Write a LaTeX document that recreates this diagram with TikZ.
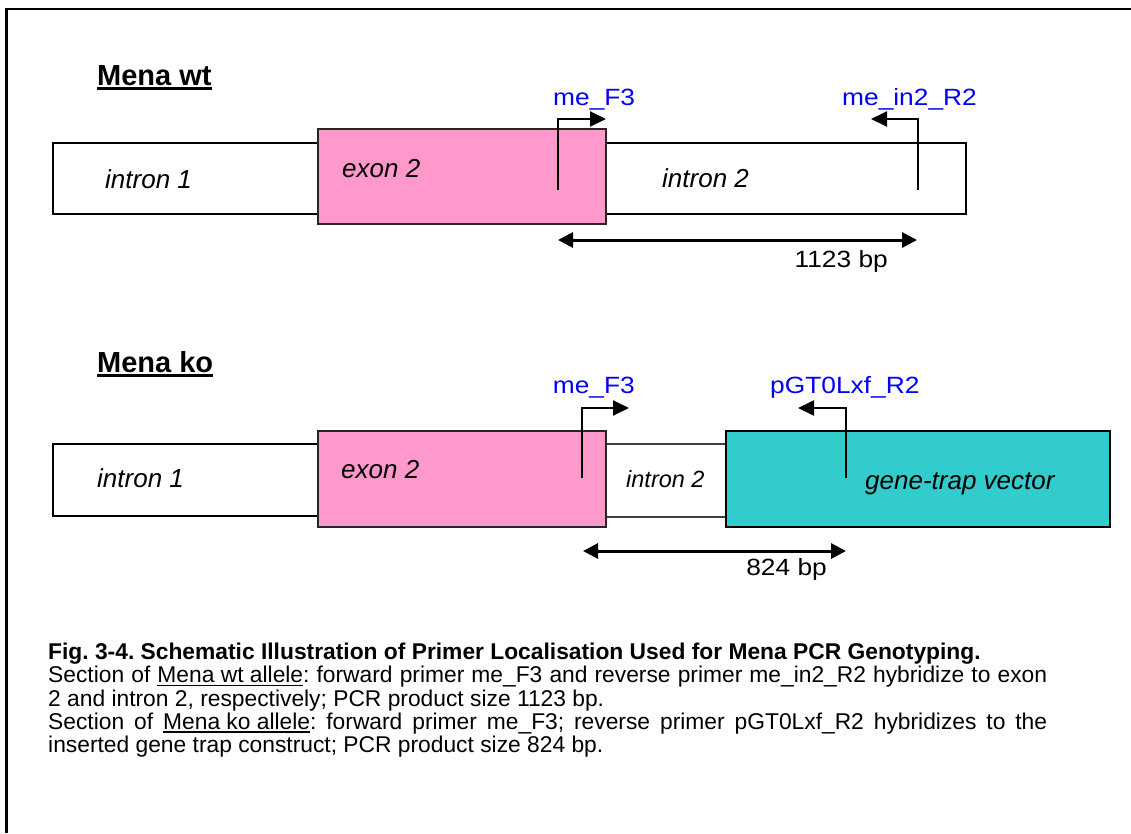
\documentclass[tikz,border=0pt]{standalone}
\usepackage{fontspec}
\setmainfont{Liberation Sans}
\newfontfamily\widesans{Liberation Sans}[FakeStretch=1.12]
\usetikzlibrary{arrows.meta,positioning}

\definecolor{exonpink}{HTML}{FF99CC}
\definecolor{trapcyan}{HTML}{33CCCC}
\definecolor{primerblue}{HTML}{0000FF}

% underlined text with a rule of our own
\newcommand{\headul}[1]{\setbox0\hbox{#1}\rlap{\rule[-4.5pt]{\wd0}{2.6pt}}\box0}
\newcommand{\capul}[1]{\setbox0\hbox{#1}\rlap{\rule[-3.2pt]{\wd0}{1.3pt}}\box0}

\tikzset{
  box/.style={draw, line width=1.6pt, anchor=north west, inner sep=0pt, outer sep=0pt},
  intronbox/.style={box, fill=white},
  exonbox/.style={box, fill=exonpink, draw=black!85},
  trapbox/.style={box, fill=trapcyan, line width=2.2pt},
  boxlabel/.style={anchor=base west, inner sep=0pt, font=\fontsize{26}{30}\selectfont\itshape},
  primerlabel/.style={anchor=base west, inner sep=0pt, text=primerblue, font=\widesans\fontsize{23.5}{27}\selectfont},
  sizelabel/.style={anchor=base east, inner sep=0pt, font=\widesans\fontsize{23.5}{27}\selectfont},
  heading/.style={anchor=base west, inner sep=0pt, font=\fontsize{29}{32}\selectfont\bfseries},
  primer/.style={line width=2pt, -{Triangle[length=16pt,width=15pt]}},
  span/.style={line width=3pt, {Triangle[length=15pt,width=15pt]}-{Triangle[length=15pt,width=15pt]}},
}

\begin{document}
\begin{tikzpicture}[x=1pt,y=-1pt]
\useasboundingbox (0,0) rectangle (1131,833);
\draw[line width=2.8pt] (1131,9) -| (6.5,833);

% wild type allele
\node[heading] (wthead) at (97,85) {\headul{Mena wt}};
\node[intronbox, minimum width=265pt, minimum height=71pt] (wtin1) at (53,143) {};
\node[intronbox, minimum width=360pt, minimum height=71pt] (wtin2) at (606,143) {};
\node[exonbox, minimum width=288pt, minimum height=95pt] (wtex2) at (318,129) {};
\node[boxlabel] (wtin1lab) at (105,188) {intron 1};
\node[boxlabel] (wtex2lab) at (342,177) {exon 2};
\node[boxlabel] (wtin2lab) at (662,187) {intron 2};

\coordinate (wtFfoot) at (558,190);
\coordinate (wtFtip) at (606,119);
\coordinate (wtRfoot) at (918,190);
\coordinate (wtRtip) at (871,119);
\draw[primer] (wtFfoot) |- (wtFtip);
\draw[primer] (wtRfoot) |- (wtRtip);
\node[primerlabel] (wtFlab) at (553,105) {me\_F3};
\node[primerlabel] (wtRlab) at (842,105) {me\_in2\_R2};

\coordinate (wtspanL) at (558,240);
\coordinate (wtspanR) at (917,240);
\draw[span] (wtspanL) -- (wtspanR);
\node[sizelabel] (wtsize) at (888,267) {1123 bp};

% knock-out allele
\node[heading] (kohead) at (97,372) {\headul{Mena ko}};
\node[intronbox, minimum width=265pt, minimum height=72pt] (koin1) at (53,444) {};
\node[intronbox, minimum width=120pt, minimum height=73pt, line width=1.2pt, draw=black!75] (koin2) at (606,444) {};
\node[exonbox, minimum width=288pt, minimum height=96pt] (koex2) at (318,431) {};
\node[trapbox, minimum width=384pt, minimum height=96pt] (kotrap) at (726,431) {};
\node[boxlabel] (koin1lab) at (97,487) {intron 1};
\node[boxlabel] (koex2lab) at (341,478) {exon 2};
\node[boxlabel, font=\fontsize{23.5}{28}\selectfont\itshape] (koin2lab) at (626,487) {intron 2};
\node[boxlabel] (kotraplab) at (865,489) {gene-trap vector};

\coordinate (koFfoot) at (582,478);
\coordinate (koFtip) at (629,408);
\coordinate (koRfoot) at (846,478);
\coordinate (koRtip) at (798,408);
\draw[primer] (koFfoot) |- (koFtip);
\draw[primer] (koRfoot) |- (koRtip);
\node[primerlabel, anchor=base east] (koFlab) at (635,393) {me\_F3};
\node[primerlabel] (koRlab) at (770,393) {pGT0Lxf\_R2};

\coordinate (kospanL) at (583,551);
\coordinate (kospanR) at (846,551);
\draw[span] (kospanL) -- (kospanR);
\node[sizelabel] (kosize) at (827,575) {824 bp};

% caption
\node[anchor=north west, inner sep=0pt, text width=999pt, align=justify,
      font=\fontsize{22.8}{23.2}\selectfont] (caption) at (48,643)
  {\frenchspacing\hyphenpenalty=10000\exhyphenpenalty=10000\parindent=0pt
   \textbf{Fig. 3-4. Schematic Illustration of Primer Localisation Used for Mena PCR Genotyping.}\par
   Section of \capul{Mena wt allele}: forward primer me\_F3 and reverse primer me\_in2\_R2 hybridize to exon\linebreak
   2 and intron 2, respectively; PCR product size 1123 bp.\par
   Section of \capul{Mena ko allele}: forward primer me\_F3; reverse primer pGT0Lxf\_R2 hybridizes to the\linebreak
   inserted gene trap construct; PCR product size 824 bp.\par};
\end{tikzpicture}
\end{document}
